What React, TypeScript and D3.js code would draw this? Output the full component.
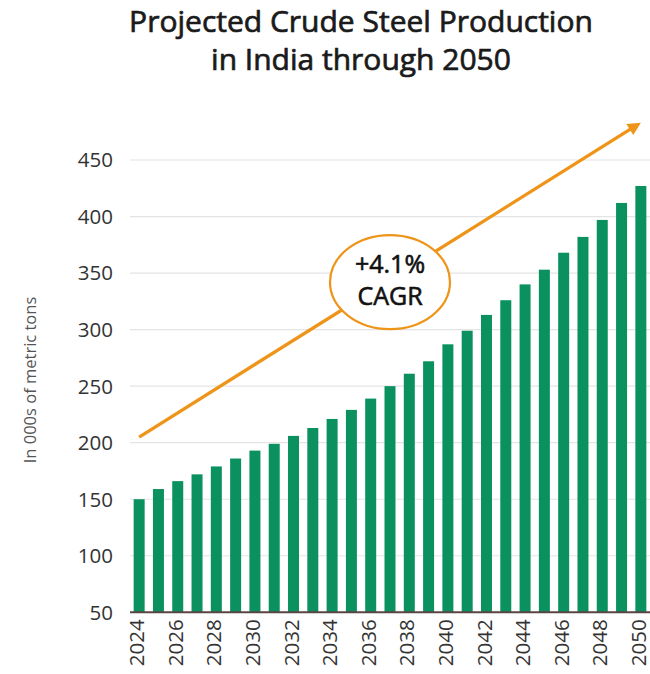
import { useMemo } from 'react'
import * as d3 from 'd3'

const years = d3.range(2024, 2051).map(String)
const production = [
  150, 159, 166, 172, 179, 186, 193, 199, 206, 213,
  221, 229, 239, 250, 261, 272, 287, 299, 313, 326,
  340, 353, 368, 382, 397, 412, 427,
]
const yTicks = [50, 100, 150, 200, 250, 300, 350, 400, 450]
const labelYears = years.filter((_, i) => i % 2 === 0)

// trend arrow + CAGR callout, in data units
const trendStart = { year: '2024', value: 205 }
const trendEnd = { year: '2050', value: 483 }
const callout = { year: '2037', value: 342, lines: ['+4.1%', 'CAGR'] }

const title = ['Projected Crude Steel Production', 'in India through 2050']
const yLabel = 'In 000s of metric tons'

const width = 650
const height = 674
const green = '#0b915f'
const orange = '#ee9418'
const font = '"Open Sans", "Noto Sans", sans-serif'

export default function App() {
  const x = useMemo(
    () => d3.scaleBand<string>().domain(years).range([129.5, 650.5]).paddingInner(0.43).paddingOuter(0.215),
    []
  )
  const y = useMemo(() => d3.scaleLinear().domain([50, 450]).range([612.3, 160]), [])

  const cx = (yr: string) => x(yr)! + x.bandwidth() / 2
  const ax1 = cx(trendStart.year)
  const ay1 = y(trendStart.value)
  const ax2 = cx(trendEnd.year)
  const ay2 = y(trendEnd.value)
  const ang = Math.atan2(ay2 - ay1, ax2 - ax1)
  const head = 13
  // shorten line so the arrow head sits at the tip
  const lx2 = ax2 - Math.cos(ang) * head * 0.8
  const ly2 = ay2 - Math.sin(ang) * head * 0.8
  const headPts = [
    [ax2, ay2],
    [ax2 - Math.cos(ang) * head + Math.sin(ang) * 6.5, ay2 - Math.sin(ang) * head - Math.cos(ang) * 6.5],
    [ax2 - Math.cos(ang) * head - Math.sin(ang) * 6.5, ay2 - Math.sin(ang) * head + Math.cos(ang) * 6.5],
  ]

  const ex = cx(callout.year)
  const ey = y(callout.value)

  return (
    <div style={{ position: 'absolute', left: 0, top: 0 }}>
      <svg width={width} height={height} style={{ display: 'block', background: '#fff' }}>
        {/* title (regular + thin stroke to get a medium weight) */}
        {title.map((t, i) => (
          <text
            key={t}
            x={361}
            y={32 + i * 38}
            textAnchor="middle"
            fontFamily={font}
            fontSize={30}
            fill="#1a1a1a"
            stroke="#1a1a1a"
            strokeWidth={0.7}
          >
            {t}
          </text>
        ))}

        {/* gridlines */}
        {yTicks.slice(1).map(t => (
          <line key={t} x1={130} x2={650} y1={y(t)} y2={y(t)} stroke="#e4e4e4" strokeWidth={1.2} />
        ))}

        {/* y tick labels */}
        {yTicks.map(t => (
          <text
            key={t}
            x={113}
            y={y(t)}
            dy="0.36em"
            textAnchor="end"
            fontFamily={font}
            fontSize={20.5}
            fill="#333"
          >
            {t}
          </text>
        ))}

        {/* y axis label */}
        <text
          transform="translate(30,380) rotate(-90)"
          textAnchor="middle"
          dy="0.35em"
          fontFamily={font}
          fontSize={16.5}
          fill="#555"
        >
          {yLabel}
        </text>

        {/* bars */}
        {years.map((yr, i) => (
          <rect
            key={yr}
            x={x(yr)}
            y={y(production[i])}
            width={x.bandwidth()}
            height={y(50) - y(production[i])}
            fill={green}
          />
        ))}

        {/* baseline */}
        <line x1={130} x2={650} y1={y(50)} y2={y(50)} stroke="#5a4444" strokeWidth={2} />

        {/* x tick labels */}
        {labelYears.map(yr => (
          <text
            key={yr}
            transform={`translate(${cx(yr)},${y(50) + 7}) rotate(-90)`}
            dy="0.25em"
            textAnchor="end"
            fontFamily={font}
            fontSize={20.5}
            fill="#333"
          >
            {yr}
          </text>
        ))}

        {/* trend arrow */}
        <line x1={ax1} y1={ay1} x2={lx2} y2={ly2} stroke={orange} strokeWidth={3.3} />
        <polygon points={headPts.map(p => p.join(',')).join(' ')} fill={orange} />

        {/* CAGR callout */}
        <ellipse cx={ex} cy={ey} rx={60} ry={47} fill="#fff" stroke={orange} strokeWidth={2.2} />
        {callout.lines.map((l, i) => (
          <text
            key={l}
            x={ex}
            y={ey - 9 + i * 32}
            textAnchor="middle"
            fontFamily={font}
            fontSize={25}
            fill="#111"
            stroke="#111"
            strokeWidth={0.6}
          >
            {l}
          </text>
        ))}
      </svg>
    </div>
  )
}
